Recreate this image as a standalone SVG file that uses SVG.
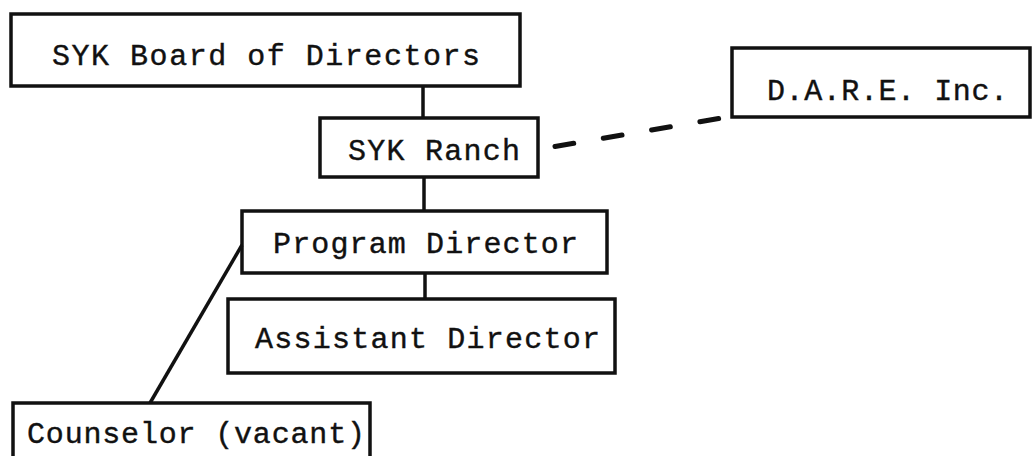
<svg xmlns="http://www.w3.org/2000/svg" width="1033" height="456" viewBox="0 0 1033 456">
  <style>
    .box { fill: none; stroke: #111; stroke-width: 3.5; }
    .lbl { font-family: "Liberation Mono", "DejaVu Sans Mono", monospace; font-size: 30px; fill: #111; stroke: #111; stroke-width: 0.4; }
    .conn { stroke: #111; stroke-width: 3.5; fill: none; }
    .dash { stroke: #111; stroke-width: 5; stroke-linecap: round; stroke-dasharray: 19 30; fill: none; }
  </style>
  <rect width="1033" height="456" fill="#fff"/>
  <g id="connectors">
    <line class="conn" x1="423" y1="86" x2="423" y2="118"/>
    <line class="conn" x1="424" y1="177" x2="424" y2="211"/>
    <line class="conn" x1="425" y1="273" x2="425" y2="299"/>
    <line class="conn" x1="242" y1="245" x2="150" y2="403"/>
    <line class="dash" x1="555" y1="146.5" x2="719" y2="118.5"/>
  </g>
  <g id="board">
    <rect class="box" x="11" y="14" width="509" height="72"/>
    <text class="lbl" x="52" y="65" textLength="428" lengthAdjust="spacing">SYK Board of Directors</text>
  </g>
  <g id="ranch">
    <rect class="box" x="320" y="118" width="218" height="59"/>
    <text class="lbl" x="348" y="160" textLength="172" lengthAdjust="spacing">SYK Ranch</text>
  </g>
  <g id="dare">
    <rect class="box" x="732" y="48" width="298" height="69"/>
    <text class="lbl" x="767" y="100" textLength="241" lengthAdjust="spacing">D.A.R.E. Inc.</text>
  </g>
  <g id="program-director">
    <rect class="box" x="242" y="211" width="365" height="62"/>
    <text class="lbl" x="273" y="253" textLength="305" lengthAdjust="spacing">Program Director</text>
  </g>
  <g id="assistant-director">
    <rect class="box" x="228" y="299" width="387" height="74"/>
    <text class="lbl" x="255" y="348" textLength="345" lengthAdjust="spacing">Assistant Director</text>
  </g>
  <g id="counselor">
    <rect class="box" x="13" y="403" width="357" height="62"/>
    <text class="lbl" x="27" y="443" textLength="338" lengthAdjust="spacing">Counselor (vacant)</text>
  </g>
</svg>
